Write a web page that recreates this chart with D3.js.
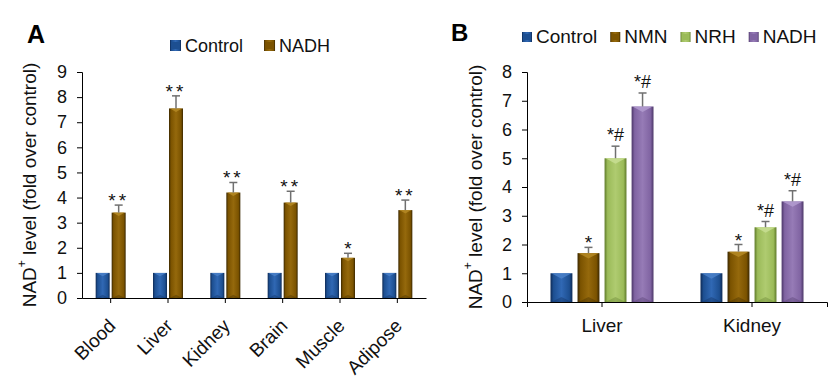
<!DOCTYPE html>
<html><head><meta charset="utf-8">
<script src="https://cdn.jsdelivr.net/npm/d3@7"></script>
<style>
html,body{margin:0;padding:0;background:#fff;}
svg{display:block;font-family:Arial,"Liberation Sans",Helvetica,sans-serif;}
</style></head>
<body><svg id="chart" width="840" height="388"></svg>
<script>
// ---------- Data ----------
// Panel A
const catsA = ["Blood","Liver","Kidney","Brain","Muscle","Adipose"];
const seriesA = ["Control","NADH"];
const controlA = [1,1,1,1,1,1];
const nadhA = [3.4,7.55,4.2,3.8,1.6,3.5];
const nadhErrA = [0.3,0.5,0.4,0.45,0.18,0.4];
const sigA = ["**","**","**","**","*","**"];
const ticksA = [0,1,2,3,4,5,6,7,8,9];

// Panel B
const catsB = ["Liver","Kidney"];
const seriesB = ["Control","NMN","NRH","NADH"];
const controlB = [1,1];
const nmnB = [1.7,1.75];
const nmnErrB = [0.2,0.25];
const nrhB = [5.0,2.6];
const nrhErrB = [0.42,0.2];
const nadhB = [6.8,3.5];
const nadhErrB = [0.47,0.37];
const sigNmnB = ["*","*"];
const sigNrhB = ["*#","*#"];
const sigNadhB = ["*#","*#"];
const ticksB = [0,1,2,3,4,5,6,7,8];

const yTitle = "level (fold over control)";

// ---------- Styles ----------
const palette = {
  blue:   {base:"#1d4f91", dark:"#0e2a55", light:"#3068b4", top:"#4a80c8"},
  brown:  {base:"#7b5300", dark:"#3a2700", light:"#95690c", top:"#b58a24"},
  green:  {base:"#9bbb59", dark:"#5e7a2a", light:"#afcb70", top:"#c8de93"},
  purple: {base:"#8064a2", dark:"#4c3768", light:"#967bb6", top:"#b39cd0"}
};
const colorsA = {Control:"blue", NADH:"brown"};
const colorsB = {Control:"blue", NMN:"brown", NRH:"green", NADH:"purple"};

const svg = d3.select("#chart");
const defs = svg.append("defs");
Object.entries(palette).forEach(([k,c])=>{
  const g = defs.append("linearGradient").attr("id","g_"+k).attr("x1","0").attr("x2","1").attr("y1","0").attr("y2","0");
  [[0,c.dark],[0.14,c.base],[0.5,c.light],[0.86,c.base],[1,c.dark]].forEach(([o,col])=>
    g.append("stop").attr("offset",o).attr("stop-color",col));
});

const FONT = 'Arial,"Liberation Sans",Helvetica,sans-serif';

function drawBars(g, rows, x0, x1, y, colorMap){
  rows.forEach(r=>{
    const xl = x0(r.cat) + x1(r.series);
    const w = x1.bandwidth();
    const yt = y(r.value), yb = y(0);
    const c = palette[colorMap[r.series]];
    g.append("rect").attr("x",xl).attr("y",yt).attr("width",w).attr("height",yb-yt)
      .attr("fill","url(#g_"+colorMap[r.series]+")");
    const d = Math.min(w*0.45, (yb-yt)/2);
    g.append("path").attr("d",`M${xl+1},${yt}L${xl+w-1},${yt}L${xl+w/2},${yt+d*0.55}Z`)
      .attr("fill",c.top).attr("opacity",0.85);
    g.append("path").attr("d",`M${xl+1},${yb}L${xl+w-1},${yb}L${xl+w/2},${yb-d*0.5}Z`)
      .attr("fill",c.dark).attr("opacity",0.35);
    if(r.err!=null){
      const cx = xl + w/2, ye = y(r.value + r.err);
      g.append("line").attr("x1",cx).attr("x2",cx).attr("y1",yt).attr("y2",ye)
        .attr("stroke","#707070").attr("stroke-width",1.5);
      g.append("line").attr("x1",cx-4).attr("x2",cx+4).attr("y1",ye).attr("y2",ye)
        .attr("stroke","#707070").attr("stroke-width",1.5);
      if(r.sig){
        const hasHash = r.sig.indexOf("#")>=0;
        g.append("text").attr("x",cx).attr("y", hasHash ? ye-5 : ye+2)
          .attr("text-anchor","middle").attr("font-size", hasHash ? 18 : 19)
          .attr("letter-spacing", r.sig==="**" ? 3 : 0)
          .attr("fill","#111").text(r.sig);
      }
    }
  });
}

function yTitleText(g, x, y){
  const t = g.append("text").attr("transform",`translate(${x},${y}) rotate(-90)`)
    .attr("text-anchor","middle").attr("dominant-baseline","central")
    .attr("font-size",19).attr("fill","#111");
  t.append("tspan").text("NAD");
  t.append("tspan").attr("font-size",12).attr("dy",-7).text("+");
  t.append("tspan").attr("dy",7).text(" " + yTitle);
}

function legend(g, items, colorMap, x, ySq, yTxt, fs, gap, sq){
  let cx = x;
  items.forEach(s=>{
    const c = palette[colorMap[s]];
    g.append("rect").attr("x",cx).attr("y",ySq).attr("width",sq).attr("height",sq)
      .attr("fill","url(#g_"+colorMap[s]+")");
    g.append("rect").attr("x",cx+2).attr("y",ySq+2).attr("width",sq-4).attr("height",sq-4)
      .attr("fill",c.base);
    const t = g.append("text").attr("x",cx+sq+4).attr("y",yTxt).attr("font-size",fs)
      .attr("fill","#111").text(s);
    cx += sq + 4 + t.node().getComputedTextLength() + gap;
  });
}

function styleAxis(sel){
  sel.selectAll("path,line").attr("stroke","#000").attr("stroke-width",1);
  sel.selectAll("text").attr("font-family",FONT).attr("fill","#111");
}

// ---------- Panel A ----------
{
  const g = svg.append("g");
  const x0 = d3.scaleBand().domain(catsA).range([82,426]);
  const x1 = d3.scaleBand().domain(seriesA).range([0,30]).paddingInner(0.125);
  const off = (x0.bandwidth()-30)/2;
  const x0o = c => x0(c)+off;
  const y = d3.scaleLinear().domain([0,9]).range([298,72]);

  const ya = g.append("g").attr("transform","translate(82,0)")
    .call(d3.axisLeft(y).tickValues(ticksA).tickSize(5).tickPadding(10).tickFormat(d3.format("d")));
  ya.select(".domain").attr("d","M-5,72.5H0.5V298.5H-5");
  ya.selectAll("text").attr("font-size",18);
  styleAxis(ya);

  const rows = [];
  catsA.forEach((c,i)=>{
    rows.push({cat:c, series:"Control", value:controlA[i]});
    rows.push({cat:c, series:"NADH", value:nadhA[i], err:nadhErrA[i], sig:sigA[i]});
  });
  drawBars(g, rows, x0o, x1, y, colorsA);

  const xa = g.append("g").attr("transform","translate(0,298)")
    .call(d3.axisBottom(x0).tickSize(5).tickSizeOuter(0).tickFormat(""));
  styleAxis(xa);
  catsA.forEach(c=>{
    g.append("text").attr("transform",`translate(${x0(c)+x0.bandwidth()/2+6},${327}) rotate(-45)`)
      .attr("text-anchor","end").attr("font-size",19).attr("fill","#111").text(c);
  });

  yTitleText(g, 29, 185);
  legend(g, seriesA, colorsA, 170, 40, 52, 18, 21, 11);
  g.append("text").attr("x",27).attr("y",43).attr("font-size",25).attr("font-weight","bold").attr("fill","#000").text("A");
}

// ---------- Panel B ----------
{
  const g = svg.append("g");
  const x0 = d3.scaleBand().domain(catsB).range([527,827]);
  const x1 = d3.scaleBand().domain(seriesB).range([0,103]).paddingInner(0.19);
  const off = (x0.bandwidth()-103)/2;
  const x0o = c => x0(c)+off;
  const y = d3.scaleLinear().domain([0,8]).range([302,72]);

  const ya = g.append("g").attr("transform","translate(527,0)")
    .call(d3.axisLeft(y).tickValues(ticksB).tickSize(5).tickPadding(10).tickFormat(d3.format("d")));
  ya.select(".domain").attr("d","M-5,72.5H0.5V302.5H-5");
  ya.selectAll("text").attr("font-size",18);
  styleAxis(ya);

  const rows = [];
  catsB.forEach((c,i)=>{
    rows.push({cat:c, series:"Control", value:controlB[i]});
    rows.push({cat:c, series:"NMN", value:nmnB[i], err:nmnErrB[i], sig:sigNmnB[i]});
    rows.push({cat:c, series:"NRH", value:nrhB[i], err:nrhErrB[i], sig:sigNrhB[i]});
    rows.push({cat:c, series:"NADH", value:nadhB[i], err:nadhErrB[i], sig:sigNadhB[i]});
  });
  drawBars(g, rows, x0o, x1, y, colorsB);

  const xa = g.append("g").attr("transform","translate(0,302)")
    .call(d3.axisBottom(x0).tickSize(5).tickSizeOuter(5).tickPadding(12));
  styleAxis(xa);
  xa.selectAll("text").attr("font-size",19);

  yTitleText(g, 475, 187);
  legend(g, seriesB, colorsB, 522, 32, 43, 19, 13, 10);
  g.append("text").attr("x",451).attr("y",41).attr("font-size",24).attr("font-weight","bold").attr("fill","#000").text("B");
}
</script></body></html>
